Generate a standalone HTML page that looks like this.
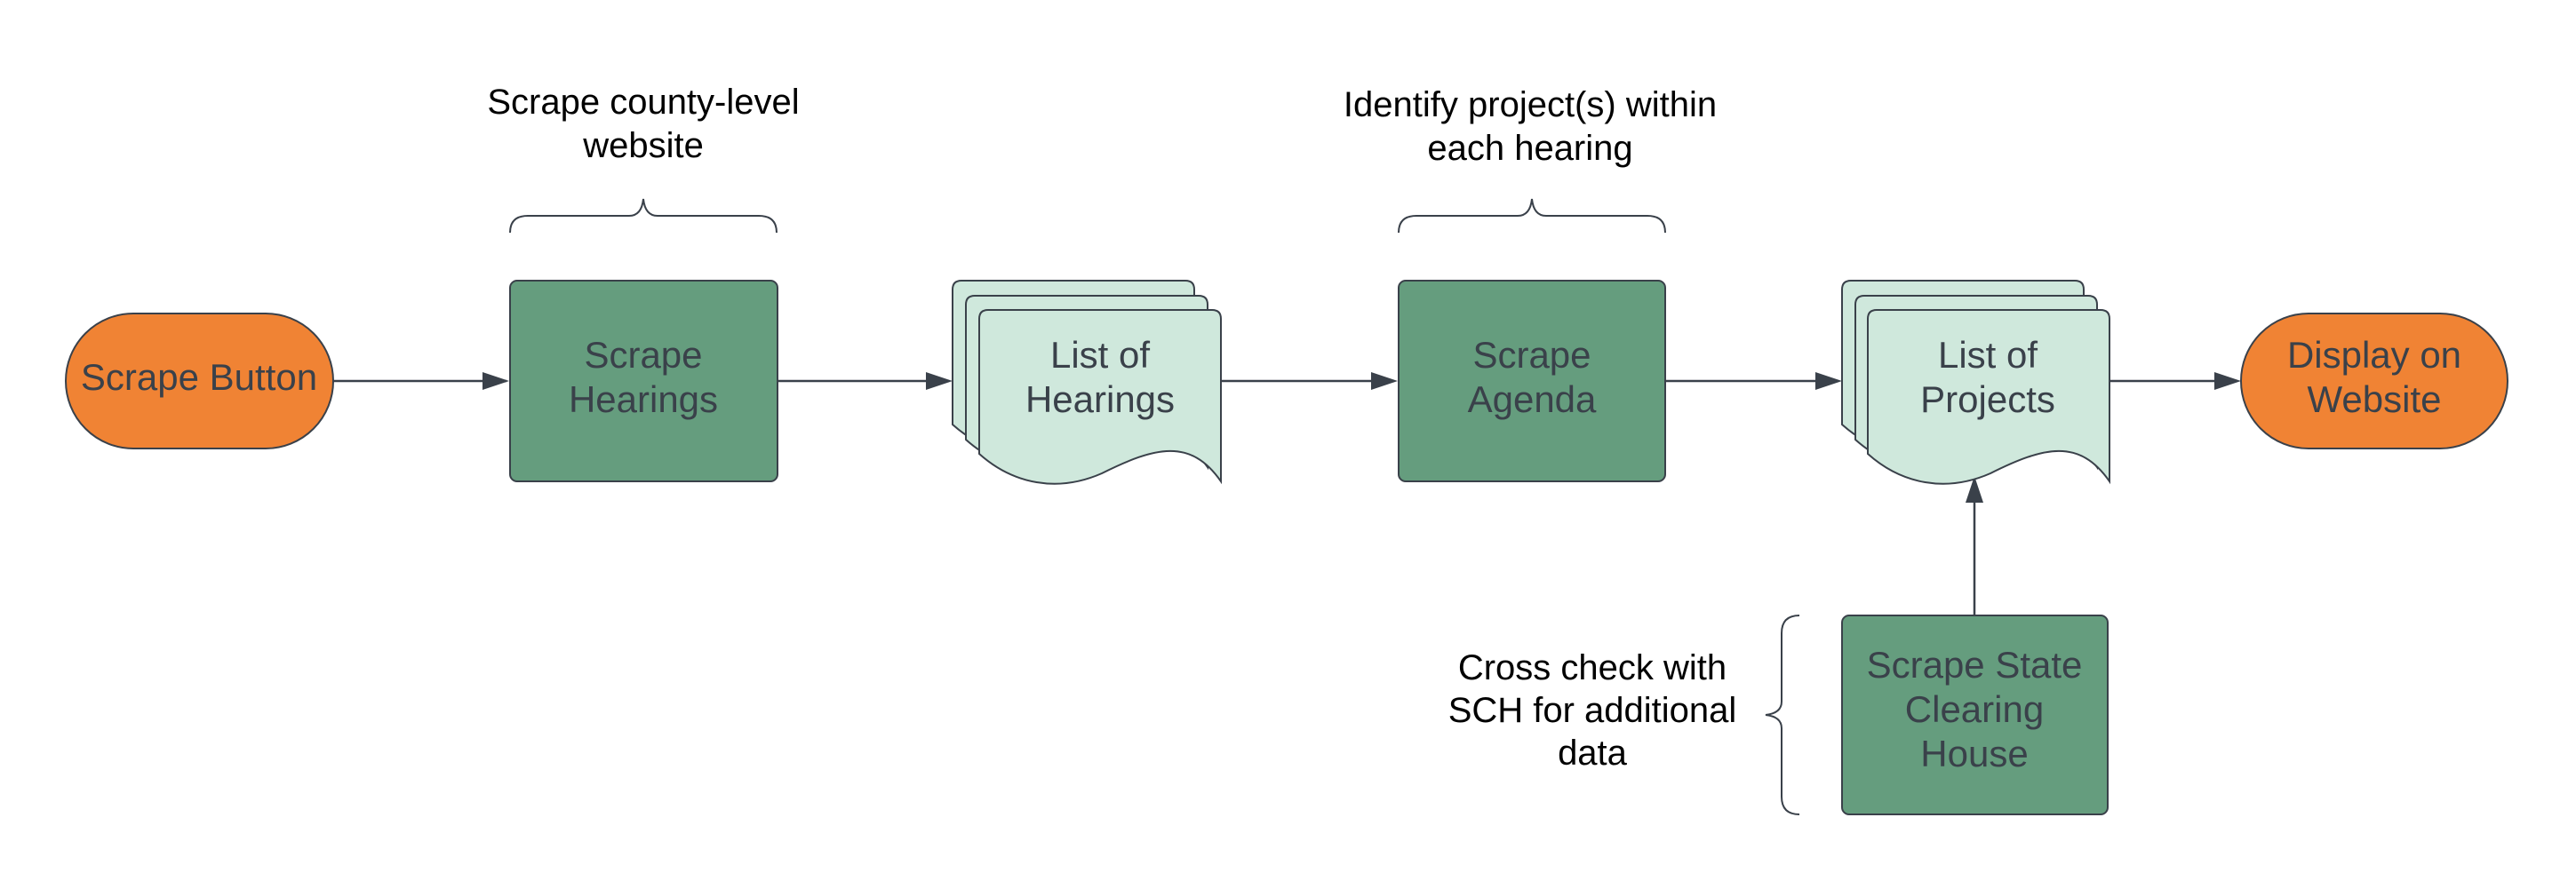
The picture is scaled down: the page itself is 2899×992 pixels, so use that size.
<!DOCTYPE html>
<html><head><meta charset="utf-8"><style>
html,body{margin:0;padding:0;background:#fff;}
svg{display:block}
text{font-family:"Liberation Sans",sans-serif;}
.n{font-size:42px;fill:#3a414a;text-anchor:middle}
.t{font-size:40px;fill:#000;text-anchor:middle}
</style></head><body>
<svg width="2899" height="992" viewBox="0 0 2899 992" xmlns="http://www.w3.org/2000/svg">
<g stroke="#3a414a" stroke-width="2.5" fill="none">
<line x1="375" y1="429" x2="570" y2="429"/>
<line x1="875" y1="429" x2="1068" y2="429"/>
<line x1="1374" y1="429" x2="1569" y2="429"/>
<line x1="1873" y1="429" x2="2069" y2="429"/>
<line x1="2372" y1="429" x2="2518" y2="429"/>
<line x1="2222" y1="693" x2="2222" y2="541"/>
</g>
<g fill="#3a414a">
<path d="M543,419 L573,429 L543,439z"/>
<path d="M1042,419 L1072,429 L1042,439z"/>
<path d="M1543,419 L1573,429 L1543,439z"/>
<path d="M2043,419 L2073,429 L2043,439z"/>
<path d="M2492,419 L2522,429 L2492,439z"/>
<path d="M2212,566 L2222,536 L2232,566z"/>
</g>
<g stroke="#3a414a" stroke-width="2" fill="none">
<path d="M574,262 Q574,243 594,243 L708,243 Q722,243 724,224 Q726,243 740,243 L854,243 Q874,243 874,262"/>
<path d="M1574,262 Q1574,243 1594,243 L1708,243 Q1722,243 1724,224 Q1726,243 1740,243 L1854,243 Q1874,243 1874,262"/>
<path d="M2025,693 Q2005,693 2005,713 L2005,790 Q2005,803 1987,805 Q2005,807 2005,820 L2005,897 Q2005,917 2025,917"/>
</g>
<rect x="74" y="353" width="301" height="152" rx="76" fill="#f08334" stroke="#3a414a" stroke-width="2"/>
<rect x="2522" y="353" width="300" height="152" rx="76" fill="#f08334" stroke="#3a414a" stroke-width="2"/>
<rect x="574" y="316" width="301" height="226" rx="8" fill="#659d7e" stroke="#3a414a" stroke-width="2"/>
<rect x="1574" y="316" width="300" height="226" rx="8" fill="#659d7e" stroke="#3a414a" stroke-width="2"/>
<rect x="2073" y="693" width="299" height="224" rx="8" fill="#659d7e" stroke="#3a414a" stroke-width="2"/>
<g fill="#cfe8dc" stroke="#3a414a" stroke-width="2">
<path id="d" d="M1072,478 L1072,326 Q1072,316 1082,316 L1334,316 Q1344,316 1344,326 L1344,509 C1310,460 1270,470 1210,500 C1160,522 1110,512 1072,478z"/>
<use href="#d" transform="translate(15,17)"/>
<use href="#d" transform="translate(30,33)"/>
<use href="#d" transform="translate(1001,0)"/>
<use href="#d" transform="translate(1016,17)"/>
<use href="#d" transform="translate(1030,33)"/>
</g>
<text class="n" x="224" y="439">Scrape Button</text>
<text class="n" x="724" y="414">Scrape</text>
<text class="n" x="724" y="464">Hearings</text>
<text class="n" x="1238" y="414">List of</text>
<text class="n" x="1238" y="464">Hearings</text>
<text class="n" x="1724" y="414">Scrape</text>
<text class="n" x="1724" y="464">Agenda</text>
<text class="n" x="2237" y="414">List of</text>
<text class="n" x="2237" y="464">Projects</text>
<text class="n" x="2672" y="414">Display on</text>
<text class="n" x="2672" y="464">Website</text>
<text class="n" x="2222" y="763">Scrape State</text>
<text class="n" x="2222" y="813">Clearing</text>
<text class="n" x="2222" y="863">House</text>
<text class="t" x="724" y="128">Scrape county-level</text>
<text class="t" x="724" y="177">website</text>
<text class="t" x="1722" y="131">Identify project(s) within</text>
<text class="t" x="1722" y="180">each hearing</text>
<text class="t" x="1792" y="765">Cross check with</text>
<text class="t" x="1792" y="813">SCH for additional</text>
<text class="t" x="1792" y="861">data</text>
</svg>
</body></html>
